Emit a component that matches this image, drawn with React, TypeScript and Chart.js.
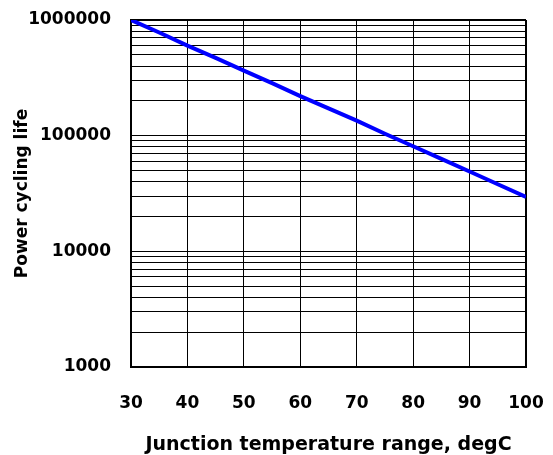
import { useEffect, useRef } from 'react';
import { Chart, registerables } from 'chart.js';

Chart.register(...registerables);

const temperatures = [30, 35, 40, 45, 50, 55, 60, 65, 70, 75, 80, 85, 90, 95, 100];
const cycles = [1000000, 780000, 600000, 470000, 365000, 285000, 220000, 172000, 135000, 104000, 81000, 63000, 49000, 38000, 29500];
const xTickValues = [30, 40, 50, 60, 70, 80, 90, 100];
const yLabelValues = [1000, 10000, 100000, 1000000];
const yGridValues = [
  1000, 2000, 3000, 4000, 5000, 6000, 7000, 8000, 9000,
  10000, 20000, 30000, 40000, 50000, 60000, 70000, 80000, 90000,
  100000, 200000, 300000, 400000, 500000, 600000, 700000, 800000, 900000,
  1000000,
];
const xTitle = 'Junction temperature range, degC';
const yTitle = 'Power cycling life';

const FONT = { family: "'DejaVu Sans', sans-serif", size: 17, weight: 'bold' as const };
const XTITLE_FONT = { family: "'DejaVu Sans', sans-serif", size: 19, weight: 'bold' as const };

export default function App() {
  const ref = useRef<HTMLCanvasElement | null>(null);

  useEffect(() => {
    document.body.style.margin = '0';
    const canvas = ref.current;
    if (!canvas) return;
    const chart = new Chart(canvas, {
      type: 'line',
      data: {
        datasets: [
          {
            data: temperatures.map((t, i) => ({ x: t, y: cycles[i] })),
            borderColor: '#0000ff',
            borderWidth: 4,
            pointRadius: 0,
            tension: 0,
            fill: false,
          },
        ],
      },
      options: {
        animation: false,
        responsive: false,
        devicePixelRatio: 1,
        layout: { padding: { top: 20, right: 27, left: 0, bottom: 0 } },
        plugins: { legend: { display: false }, tooltip: { enabled: false } },
        scales: {
          x: {
            type: 'linear',
            min: 30,
            max: 100,
            afterBuildTicks: (scale: any) => {
              scale.ticks = xTickValues.map((v) => ({ value: v }));
            },
            afterFit: (scale: any) => {
              scale.height = 88;
              scale.paddingLeft = 0;
              scale.paddingRight = 0;
            },
            ticks: { color: '#000', font: FONT, padding: 26, autoSkip: false, maxRotation: 0 },
            grid: {
              color: '#000',
              lineWidth: (ctx: any) => (ctx.tick && ctx.tick.value === 100 ? 2 : 1),
              drawTicks: false,
            },
            border: { color: '#000', width: 2 },
            title: { display: true, text: xTitle, color: '#000', font: XTITLE_FONT, padding: { top: 0, bottom: -1 } },
          },
          y: {
            type: 'logarithmic',
            min: 1000,
            max: 1000000,
            afterBuildTicks: (scale: any) => {
              scale.ticks = yGridValues.map((v) => ({ value: v }));
            },
            afterFit: (scale: any) => {
              scale.width = 131;
              scale.paddingTop = 0;
              scale.paddingBottom = 0;
            },
            ticks: {
              color: '#000',
              font: FONT,
              padding: 20,
              autoSkip: false,
              callback: (v: any) => (yLabelValues.includes(Number(v)) ? String(v) : ''),
            },
            grid: {
              color: '#000',
              lineWidth: (ctx: any) => (ctx.tick && ctx.tick.value === 1000000 ? 2 : 1),
              drawTicks: false,
            },
            border: { color: '#000', width: 2 },
            title: { display: true, text: yTitle, color: '#000', font: FONT, padding: { top: 12, bottom: 0 } },
          },
        },
      },
    });
    return () => chart.destroy();
  }, []);

  return (
    <div style={{ position: 'absolute', left: 0, top: 0, width: 553, height: 455, background: '#fff' }}>
      <canvas ref={ref} width={553} height={455} />
    </div>
  );
}
